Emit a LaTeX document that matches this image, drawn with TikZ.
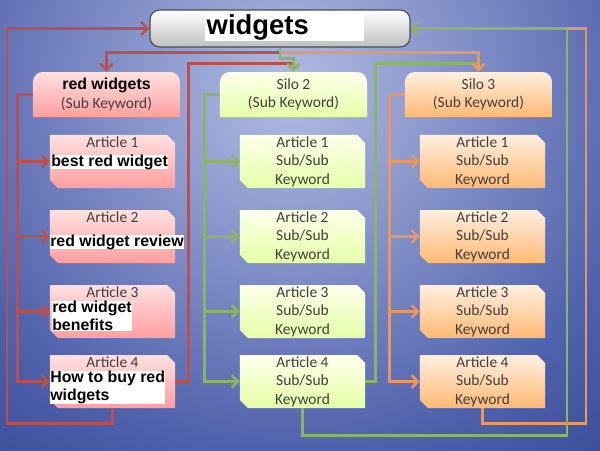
\documentclass[tikz,border=0pt]{standalone}
\usepackage{fontspec}
\setsansfont{Carlito}
\newfontfamily\arialfont{Liberation Sans}
\usetikzlibrary{arrows.meta,positioning}

\definecolor{redln}{RGB}{184,80,80}
\definecolor{greenln}{RGB}{140,180,100}
\definecolor{orangeln}{RGB}{232,150,98}
\definecolor{bgin}{RGB}{178,188,226}
\definecolor{bgmid}{RGB}{80,98,172}
\definecolor{bgout}{RGB}{24,38,118}
\pgfdeclareradialshading{bgshade}{\pgfpoint{0bp}{0bp}}{color(0bp)=(bgin); color(10bp)=(bgmid); color(20bp)=(bgout); color(50bp)=(bgout)}
\pgfdeclarelayer{bg}
\pgfsetlayers{bg,main}

\begin{document}
\begin{tikzpicture}[x=0.025cm, y=-0.025cm,
    txt/.style={font=\sffamily\fontsize{11}{13.2}\selectfont, text=black!75},
    lab/.style={font=\arialfont\bfseries\fontsize{11.3}{12.6}\selectfont, fill=white,
      inner sep=0pt, align=left, anchor=west},
    silo/.style 2 args={txt, minimum width=3.675cm, minimum height=1.125cm, inner sep=0pt,
      align=center, path picture={
        \shade[top color=#1, bottom color=#2] (path picture bounding box.north)
          [rounded corners=7pt] -- (path picture bounding box.north east)
          [sharp corners] -- (path picture bounding box.south east)
          -- (path picture bounding box.south west)
          [rounded corners=7pt] -- (path picture bounding box.north west)
          [sharp corners] -- cycle;}},
    art/.style 2 args={txt, minimum width=3.125cm, minimum height=1.325cm, inner sep=0pt,
      align=center, path picture={
        \shade[top color=#1, bottom color=#2] (path picture bounding box.north west)
          -- ([xshift=-5.7pt]path picture bounding box.north east)
          -- ([yshift=-5.7pt]path picture bounding box.north east)
          -- (path picture bounding box.south east)
          -- ([xshift=5.7pt]path picture bounding box.south west)
          -- ([yshift=5.7pt]path picture bounding box.south west) -- cycle;}},
    ln/.style={line width=2pt, draw=#1},
    arw/.style={-{Straight Barb[length=4.5pt,width=9pt,line width=1.8pt]}}
  ]
  \useasboundingbox (0,0) rectangle (600,450);
  \begin{pgfonlayer}{bg}
    \begin{scope}
      \clip (0,0) rectangle (600,450);
      \shade[shading=bgshade] (290,90) circle[radius=22.5cm];
    \end{scope}
  \end{pgfonlayer}

  % main keyword
  \node[draw=black!70, line width=0.8pt, rounded corners=7pt, top color=white, bottom color=black!25,
    minimum width=6.5cm, minimum height=0.925cm] (W) at (280,28.5) {};
  \node[font=\arialfont\bfseries\fontsize{19.5}{20}\selectfont, fill=white, inner sep=1pt,
    text width=3.9cm, anchor=west] (wt) at (205,27) {widgets};

  % silos
  \node[silo={red!12}{red!38}] (s1) at (106.5,94.5) {{\arialfont\bfseries\fontsize{11.3}{13.2}\selectfont\color{black}red widgets}\\(Sub Keyword)};
  \node[silo={green!6!yellow!8}{green!30!yellow!35}] (s2) at (293.5,94.5) {Silo 2\\(Sub Keyword)};
  \node[silo={orange!12}{orange!55}] (s3) at (478.5,94.5) {Silo 3\\(Sub Keyword)};

  % articles
  \foreach \i/\y in {1/161.5,2/236.5,3/311.5,4/381.5} {
    \node[art={red!12}{red!38}] (r\i) at (112.5,\y) {};
    \node[txt] (rt\i) at (112.5,\y-19) {Article \i};
    \node[art={green!6!yellow!8}{green!30!yellow!35}] (g\i) at (302.5,\y) {Article \i\\Sub/Sub\\Keyword};
    \node[art={orange!12}{orange!55}] (o\i) at (482.5,\y) {Article \i\\Sub/Sub\\Keyword};
  }
  \node[lab] (rl1) at (51,162) {best red widget};
  \node[lab] (rl2) at (50,242) {red widget review};
  \node[lab] (rl3) at (52,316) {red widget\\benefits};
  \node[lab] (rl4) at (50,387.5) {How to buy red\\widgets};

  \coordinate (lft) at (7,0);
  \coordinate (rgt) at (567,0);
  \coordinate (rgt2) at (586,0);

  % links
  \draw[ln=redln] (r4.east) -- ++(13,0) |- ([yshift=5.7pt]s2.north);
  \draw[ln=greenln] (g4.east) -- ++(10,0) |- ([yshift=5.7pt]s3.north);
  \draw[ln=redln, arw] (W.south) -- ++(0,5) -| (s1.north);
  \draw[ln=orangeln, arw] (W.south) -- ++(0,5) -| (s3.north);
  \draw[ln=greenln, arw] (W.south) -- ++(0,11) -| (s2.north);
  \foreach \i in {1,...,4} {
    \draw[ln=redln, arw] (s1.west) -- ++(-15,0) |- (r\i.west);
    \draw[ln=greenln, arw] (s2.west) -- ++(-15,0) |- (g\i.west);
    \draw[ln=orangeln, arw] (s3.west) -- ++(-15,0) |- (o\i.west);
  }
  \draw[ln=redln, arw] (r4.south) -- ++(0,15) -| (lft |- W.west) -- (W.west);
  \draw[ln=orangeln] (o4.south) -- ++(0,15) -| (rgt2 |- W.east) -- (rgt |- W.east);
  \draw[ln=greenln, arw] (g4.south) -- ++(0,27) -| (rgt |- W.east) -- (W.east);
\end{tikzpicture}
\end{document}
